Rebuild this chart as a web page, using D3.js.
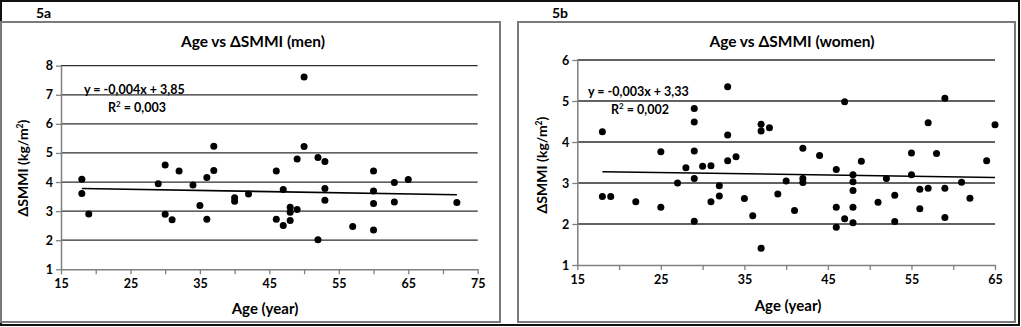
<!DOCTYPE html>
<html>
<head>
<meta charset="utf-8">
<script src="https://cdn.jsdelivr.net/npm/d3@7"></script>
<style>
  html, body { margin: 0; padding: 0; background: #fff; }
  svg { display: block; }
  text { font-family: Lato, "Open Sans", "DejaVu Sans", sans-serif; fill: #000; }
</style>
</head>
<body>
<svg id="fig" width="1021" height="327"></svg>
<script>
// Men: age (years) and change in SMMI (kg/m²)
const menAge = [18, 18, 19, 29, 30, 30, 31, 32, 34, 35, 36, 36, 37, 37, 40, 40, 42,
  46, 46, 47, 47, 48, 48, 48, 49, 49, 50, 50, 52, 52, 53, 53, 53, 57, 60, 60, 60, 60,
  63, 63, 65, 72];
const menSmmi = [4.10, 3.61, 2.90, 3.94, 4.59, 2.89, 2.70, 4.38, 3.90, 3.19, 4.16, 2.72,
  5.23, 4.40, 3.46, 3.34, 3.59, 4.38, 2.72, 3.74, 2.51, 3.13, 2.96, 2.68, 3.06, 4.79,
  7.61, 5.22, 4.84, 2.02, 4.71, 3.78, 3.37, 2.47, 4.38, 3.69, 3.26, 2.35, 3.98, 3.31,
  4.09, 3.30];

// Women: age (years) and change in SMMI (kg/m²)
const womenAge = [18, 18, 19, 22, 25, 25, 27, 28, 29, 29, 29, 29, 29, 30, 31, 31, 32, 32,
  33, 33, 33, 34, 35, 36, 37, 37, 37, 38, 39, 40, 41, 42, 42, 42, 44, 46, 46, 46, 47, 47,
  48, 48, 48, 48, 48, 49, 51, 52, 53, 53, 55, 55, 56, 56, 57, 57, 58, 59, 59, 59, 61, 62,
  64, 65];
const womenSmmi = [4.25, 2.67, 2.67, 2.54, 3.76, 2.41, 3.00, 3.37, 4.82, 4.49, 3.78, 3.11,
  2.07, 3.41, 3.42, 2.54, 2.93, 2.68, 5.35, 4.17, 3.54, 3.64, 2.62, 2.20, 4.43, 4.27, 1.41,
  4.35, 2.73, 3.05, 2.33, 3.85, 3.11, 3.01, 3.67, 3.33, 2.41, 1.92, 4.98, 2.13, 3.20, 3.03,
  2.82, 2.41, 2.03, 3.53, 2.53, 3.11, 2.70, 2.06, 3.73, 3.20, 2.85, 2.37, 4.47, 2.87, 3.72,
  5.07, 2.87, 2.16, 3.02, 2.63, 3.54, 4.42];

// Axis tick labels
const menXTicks = [15, 25, 35, 45, 55, 65, 75];
const menYTicks = [1, 2, 3, 4, 5, 6, 7, 8];
const womenXTicks = [15, 25, 35, 45, 55, 65];
const womenYTicks = [1, 2, 3, 4, 5, 6];

// Linear trend fits
const menTrend = { slope: -0.004, intercept: 3.85, eq: "y = -0,004x + 3,85", r2: "0,003" };
const womenTrend = { slope: -0.003, intercept: 3.33, eq: "y = -0,003x + 3,33", r2: "0,002" };

const svg = d3.select("#fig");

// Outer frame
svg.append("rect").attr("x", 1).attr("y", 1).attr("width", 1018).attr("height", 324)
  .attr("fill", "none").attr("stroke", "#111").attr("stroke-width", 2);

function panel(cfg) {
  const g = svg.append("g");

  // Chart-area box under the panel label
  g.append("rect").attr("x", cfg.box[0]).attr("y", cfg.box[1])
    .attr("width", cfg.box[2] - cfg.box[0]).attr("height", cfg.box[3] - cfg.box[1])
    .attr("fill", "none").attr("stroke", "#7a7a7a").attr("stroke-width", 2);

  g.append("text").attr("x", cfg.labelX).attr("y", 18)
    .attr("font-size", 14).attr("font-weight", 700).text(cfg.label);

  const x = d3.scaleLinear().domain(cfg.xDomain).range([cfg.plot.left, cfg.plot.right]);
  const y = d3.scaleLinear().domain(cfg.yDomain).range([cfg.plot.bottom, cfg.plot.top]);

  // Horizontal gridlines
  g.append("g").selectAll("line").data(cfg.yTicks.slice(1)).join("line")
    .attr("x1", x(cfg.xDomain[0])).attr("x2", x(cfg.xDomain[1]))
    .attr("y1", d => y(d)).attr("y2", d => y(d))
    .attr("stroke", "#2e2e2e").attr("stroke-width", 1.3);

  // X axis: tick every 5 years, label every 10
  const xAxis = d3.axisBottom(x)
    .tickValues(d3.range(cfg.xDomain[0], cfg.xDomain[1] + 1, 5))
    .tickSize(5).tickSizeOuter(0)
    .tickFormat(d => cfg.xTicks.includes(d) ? d : "");
  const gx = g.append("g").attr("transform", `translate(0,${y(cfg.yDomain[0])})`).call(xAxis);
  gx.select(".domain").attr("stroke", "#808080").attr("stroke-width", 1.5);
  gx.selectAll(".tick line").attr("stroke", "#808080").attr("stroke-width", 1.3);
  gx.selectAll(".tick text").attr("font-size", 12.5).attr("font-weight", 700)
    .attr("font-family", "Lato, sans-serif").attr("fill", "#000").attr("dy", "0.85em");

  const yAxis = d3.axisLeft(y).tickValues(cfg.yTicks).tickSize(5).tickSizeOuter(0)
    .tickFormat(d3.format("d"));
  const gy = g.append("g").attr("transform", `translate(${x(cfg.xDomain[0])},0)`).call(yAxis);
  gy.select(".domain").attr("stroke", "#808080").attr("stroke-width", 1.5);
  gy.selectAll(".tick line").attr("stroke", "#808080").attr("stroke-width", 1.3);
  gy.selectAll(".tick text").attr("font-size", 12.5).attr("font-weight", 700)
    .attr("font-family", "Lato, sans-serif").attr("fill", "#000").attr("x", -8);

  // Data points
  g.append("g").selectAll("circle").data(cfg.ages.map((a, i) => [a, cfg.vals[i]])).join("circle")
    .attr("cx", d => x(d[0])).attr("cy", d => y(d[1])).attr("r", 3.5).attr("fill", "#000");

  // Trend line over the observed age range
  const [a0, a1] = d3.extent(cfg.ages);
  const t = cfg.trend;
  g.append("line")
    .attr("x1", x(a0)).attr("y1", y(t.slope * a0 + t.intercept))
    .attr("x2", x(a1)).attr("y2", y(t.slope * a1 + t.intercept))
    .attr("stroke", "#000").attr("stroke-width", 1.6);

  // Equation and R²
  g.append("text").attr("x", cfg.eqX).attr("y", cfg.eqY).attr("font-size", 12.5)
    .attr("font-weight", 700).text(t.eq);
  const r = g.append("text").attr("x", cfg.eqX + cfg.r2dx).attr("y", cfg.eqY + 18)
    .attr("font-size", 12.5).attr("font-weight", 700);
  r.append("tspan").text("R");
  r.append("tspan").attr("font-size", 8).attr("dy", -5).text("2");
  r.append("tspan").attr("dy", 5).text(" = " + t.r2);

  // Title
  g.append("text").attr("x", cfg.titleX).attr("y", 47).attr("text-anchor", "middle")
    .attr("font-size", 15.5).attr("font-weight", 700).text(cfg.title);

  // Axis titles
  g.append("text").attr("x", cfg.xLabelX).attr("y", cfg.xLabelY).attr("text-anchor", "middle")
    .attr("font-size", 15).attr("font-weight", 700).text("Age (year)");
  const yl = g.append("text")
    .attr("transform", `translate(${cfg.yLabelX},${cfg.yLabelY}) rotate(-90)`)
    .attr("text-anchor", "middle").attr("font-size", 14).attr("font-weight", 700);
  yl.append("tspan").text("ΔSMMI (kg/m");
  yl.append("tspan").attr("font-size", 8.5).attr("dy", -5).text("2");
  yl.append("tspan").attr("dy", 5).text(")");
}

panel({
  label: "5a", labelX: 36, box: [1, 22, 500, 322],
  title: "Age vs ΔSMMI (men)", titleX: 253,
  plot: { left: 61, right: 477.7, top: 65.7, bottom: 269.3 },
  xDomain: [15, 75], yDomain: [1, 8], xTicks: menXTicks, yTicks: menYTicks,
  ages: menAge, vals: menSmmi, trend: menTrend,
  eqX: 84, eqY: 94, r2dx: 24,
  xLabelX: 265, xLabelY: 314, yLabelX: 28, yLabelY: 168
});

panel({
  label: "5b", labelX: 552, box: [518, 22, 1015, 322],
  title: "Age vs ΔSMMI (women)", titleX: 792,
  plot: { left: 577.3, right: 995, top: 60, bottom: 265 },
  xDomain: [15, 65], yDomain: [1, 6], xTicks: womenXTicks, yTicks: womenYTicks,
  ages: womenAge, vals: womenSmmi, trend: womenTrend,
  eqX: 588, eqY: 96, r2dx: 23,
  xLabelX: 788, xLabelY: 311, yLabelX: 547, yLabelY: 165
});
</script>
</body>
</html>
